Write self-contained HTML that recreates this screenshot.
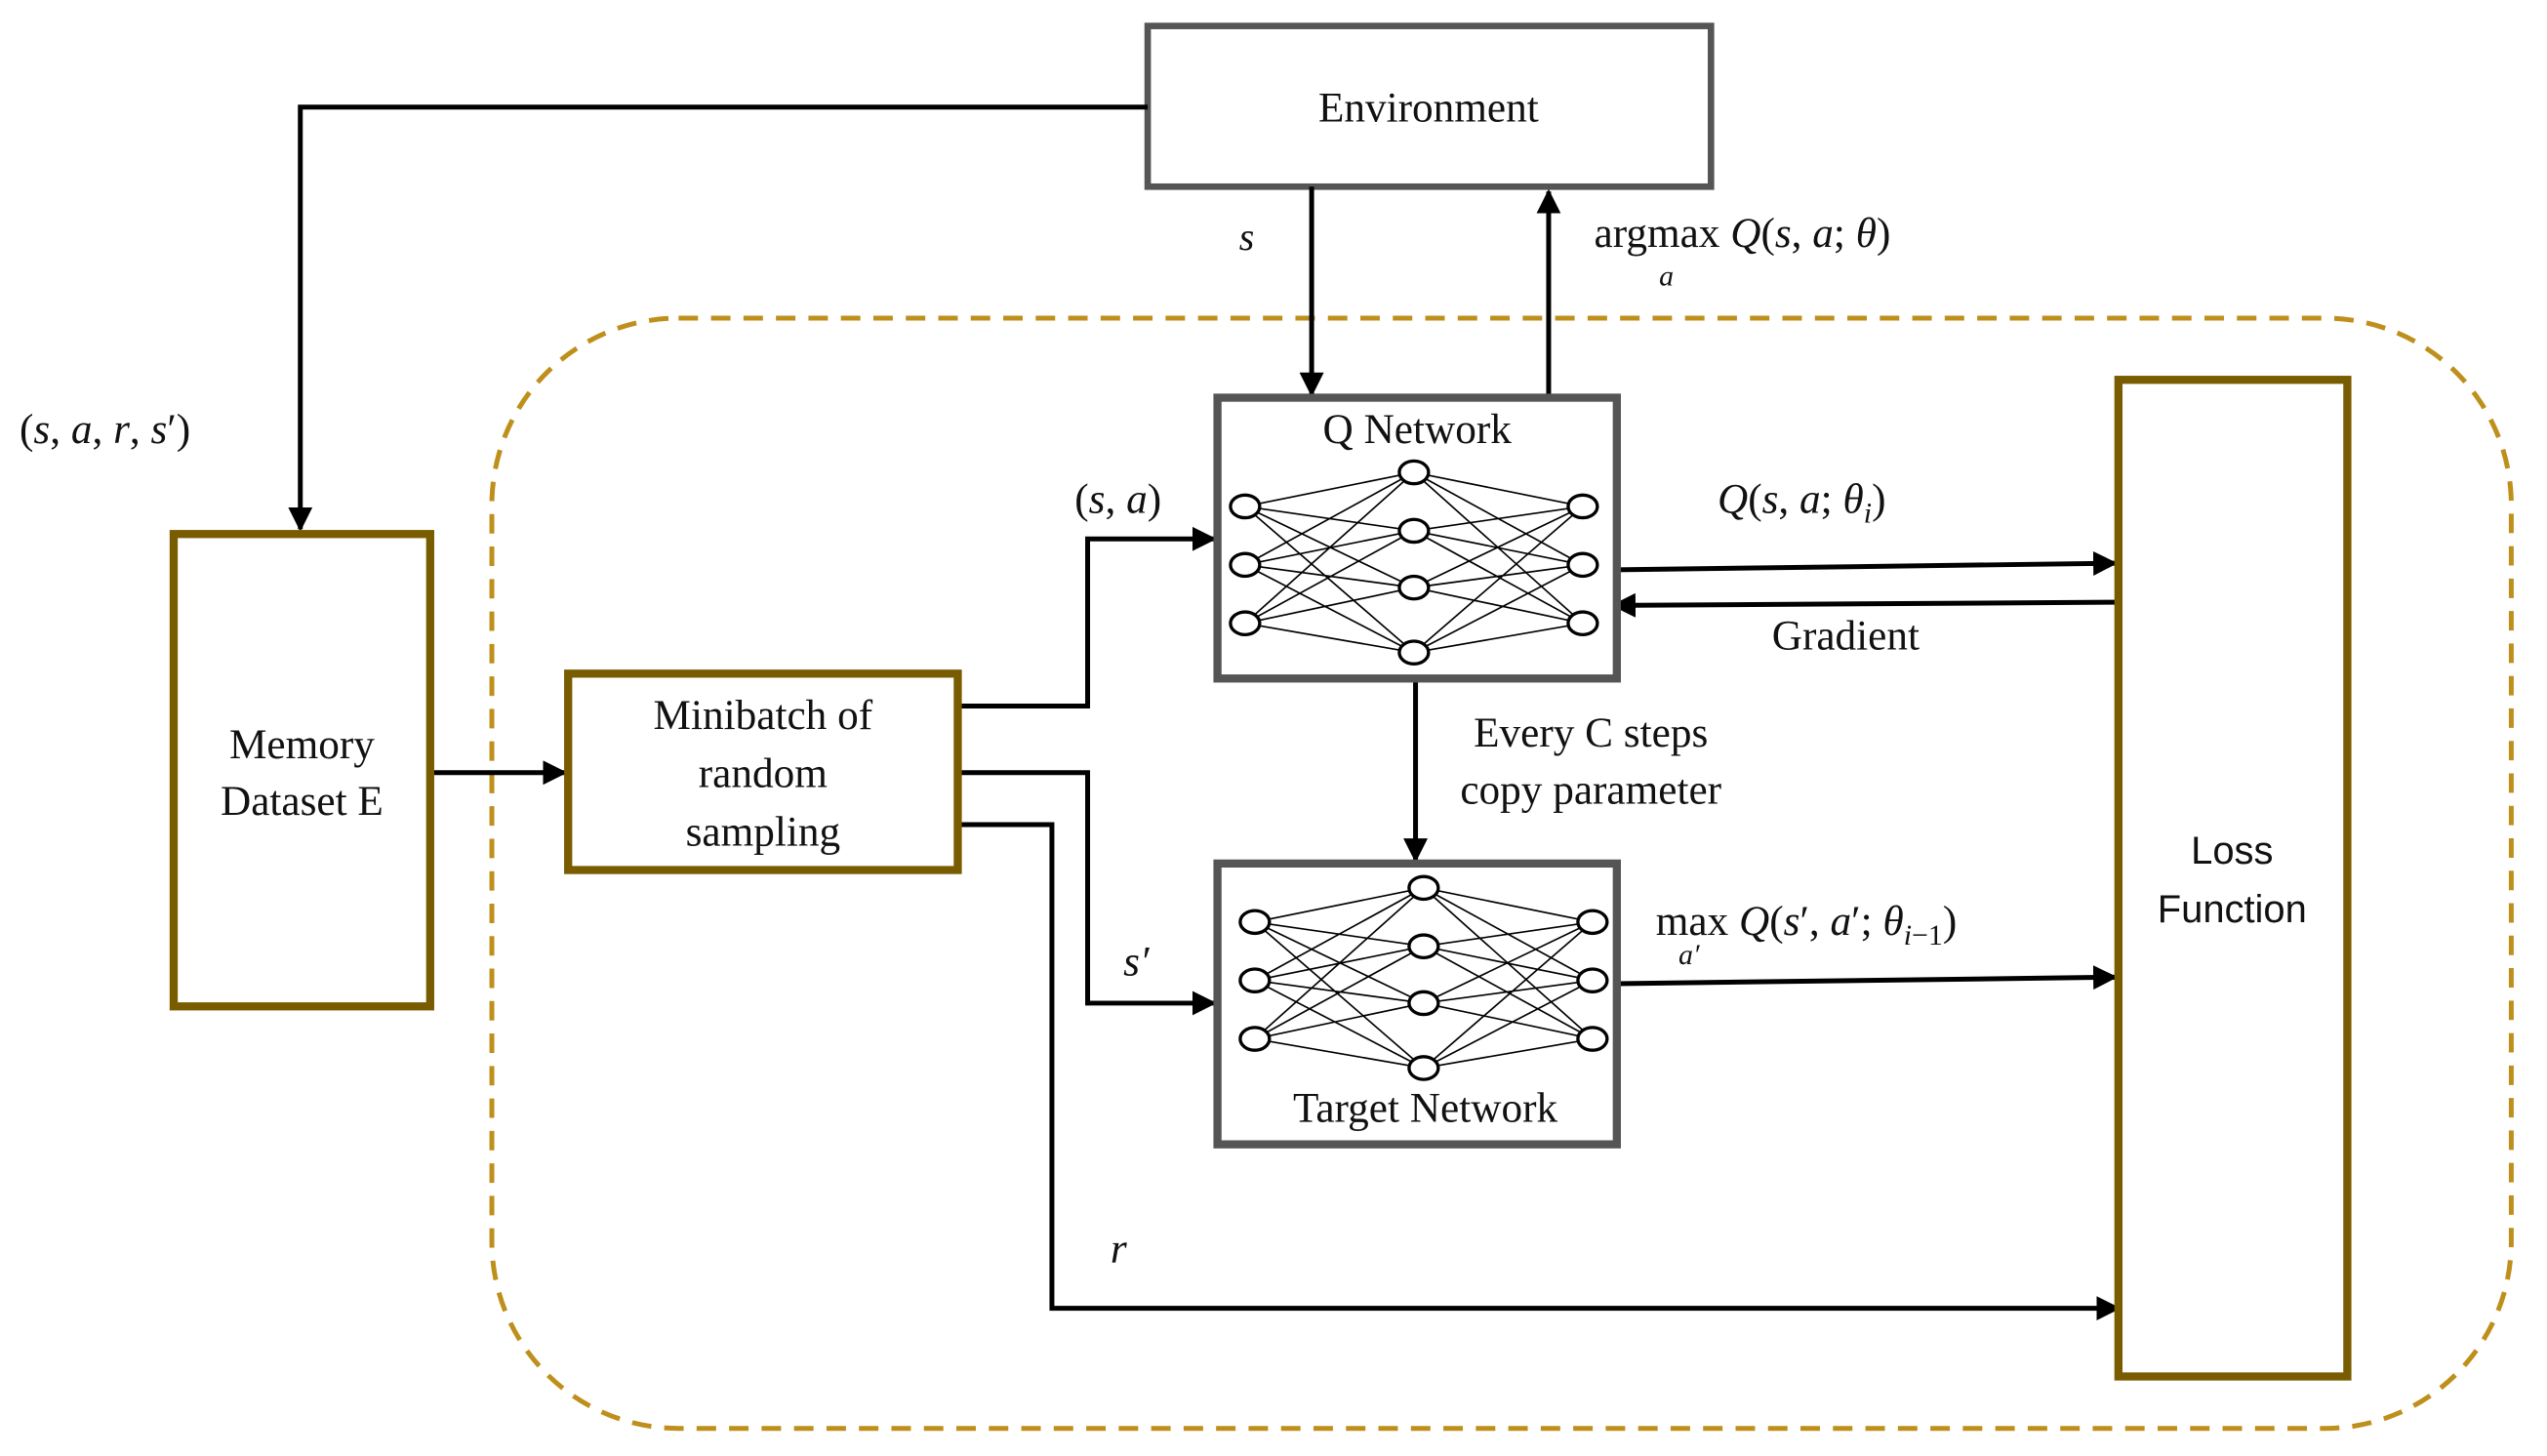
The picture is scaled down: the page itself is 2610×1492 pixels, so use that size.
<!DOCTYPE html>
<html><head><meta charset="utf-8"><style>
html,body{margin:0;padding:0;background:#fff;}
svg{display:block;}
text{font-family:"Liberation Serif",serif;fill:#111;}
.i{font-style:italic;}
</style></head><body>
<svg width="2610" height="1492" viewBox="0 0 1569 897" preserveAspectRatio="none" xmlns="http://www.w3.org/2000/svg">
<defs>
<marker id="a" viewBox="0 0 10 10" refX="9" refY="5" markerWidth="5" markerHeight="5" orient="auto"><path d="M0,0L10,5L0,10z" fill="#000"/></marker>
</defs>
<rect x="303" y="196" width="1244" height="684" rx="115" fill="none" stroke="#bf8f1c" stroke-width="3" stroke-dasharray="12,8"/>
<rect x="707" y="16" width="347" height="99" fill="#fff" stroke="#555" stroke-width="4"/>
<text x="880" y="75" font-size="26" text-anchor="middle">Environment</text>
<g stroke="#000" stroke-width="3" fill="none">
<polyline points="707,66 185,66 185,326" marker-end="url(#a)"/>
<line x1="808" y1="115" x2="808" y2="243" marker-end="url(#a)"/>
<line x1="954" y1="245" x2="954" y2="118" marker-end="url(#a)"/>
<line x1="265" y1="476" x2="348" y2="476" marker-end="url(#a)"/>
<polyline points="590,435 670,435 670,332 748,332" marker-end="url(#a)"/>
<polyline points="590,476 670,476 670,618 748,618" marker-end="url(#a)"/>
<polyline points="590,508 648,508 648,806 1305,806" marker-end="url(#a)"/>
<line x1="996" y1="351" x2="1303" y2="347" marker-end="url(#a)"/>
<line x1="1305" y1="371" x2="994" y2="373" marker-end="url(#a)"/>
<line x1="872" y1="418" x2="872" y2="530" marker-end="url(#a)"/>
<line x1="996" y1="606" x2="1303" y2="602" marker-end="url(#a)"/>
</g>
<text x="768" y="154" font-size="24" class="i" text-anchor="middle">s</text>
<text x="982" y="152" font-size="26">argmax <tspan class="i">Q</tspan>(<tspan class="i">s</tspan>, <tspan class="i">a</tspan>; <tspan class="i">θ</tspan>)</text>
<text x="1022" y="176" font-size="18" class="i">a</text>
<text x="12" y="273" font-size="26">(<tspan class="i">s</tspan>, <tspan class="i">a</tspan>, <tspan class="i">r</tspan>, <tspan class="i">s</tspan>′)</text>
<rect x="107" y="329" width="158" height="291" fill="#fff" stroke="#7a5c00" stroke-width="5"/>
<text x="186" y="467" font-size="26" text-anchor="middle">Memory</text>
<text x="186" y="502" font-size="26" text-anchor="middle">Dataset E</text>
<rect x="350" y="415" width="240" height="121" fill="#fff" stroke="#7a5c00" stroke-width="5"/>
<text x="470" y="449" font-size="26" text-anchor="middle">Minibatch of</text>
<text x="470" y="485" font-size="26" text-anchor="middle">random</text>
<text x="470" y="521" font-size="26" text-anchor="middle">sampling</text>
<text x="662" y="316" font-size="26">(<tspan class="i">s</tspan>, <tspan class="i">a</tspan>)</text>
<text x="692" y="601" font-size="26" class="i">s′</text>
<text x="684" y="778" font-size="26" class="i">r</text>
<text x="1058" y="316" font-size="26"><tspan class="i">Q</tspan>(<tspan class="i">s</tspan>, <tspan class="i">a</tspan>; <tspan class="i">θ</tspan><tspan class="i" font-size="18" dy="6">i</tspan><tspan dy="-6">)</tspan></text>
<text x="1137" y="400" font-size="26" text-anchor="middle">Gradient</text>
<text x="980" y="460" font-size="26" text-anchor="middle">Every C steps</text>
<text x="980" y="495" font-size="26" text-anchor="middle">copy parameter</text>
<text x="1020" y="576" font-size="26">max <tspan class="i">Q</tspan>(<tspan class="i">s</tspan>′, <tspan class="i">a</tspan>′;  <tspan class="i">θ</tspan><tspan font-size="18" dy="6"><tspan class="i">i</tspan>−1</tspan><tspan dy="-6">)</tspan></text>
<text x="1034" y="594" font-size="18" class="i">a′</text>
<rect x="1305" y="234" width="141" height="614" fill="#fff" stroke="#7a5c00" stroke-width="5"/>
<text x="1375" y="532" font-size="24" text-anchor="middle" style="font-family:'Liberation Sans',sans-serif">Loss</text>
<text x="1375" y="568" font-size="24" text-anchor="middle" style="font-family:'Liberation Sans',sans-serif">Function</text>
<rect x="750" y="245" width="246" height="173" fill="#fff" stroke="#555" stroke-width="5"/>
<text x="873" y="273" font-size="26" text-anchor="middle">Q Network</text>
<rect x="750" y="532" width="246" height="173" fill="#fff" stroke="#555" stroke-width="5"/>
<text x="878" y="691" font-size="26" text-anchor="middle">Target Network</text>
<g stroke="#000" stroke-width="1">
<path d="M767,312L871,291M767,312L871,327M767,312L871,362M767,312L871,402M767,348L871,291M767,348L871,327M767,348L871,362M767,348L871,402M767,384L871,291M767,384L871,327M767,384L871,362M767,384L871,402M975,312L871,291M975,312L871,327M975,312L871,362M975,312L871,402M975,348L871,291M975,348L871,327M975,348L871,362M975,348L871,402M975,384L871,291M975,384L871,327M975,384L871,362M975,384L871,402"/>
<path transform="translate(6,256)" d="M767,312L871,291M767,312L871,327M767,312L871,362M767,312L871,402M767,348L871,291M767,348L871,327M767,348L871,362M767,348L871,402M767,384L871,291M767,384L871,327M767,384L871,362M767,384L871,402M975,312L871,291M975,312L871,327M975,312L871,362M975,312L871,402M975,348L871,291M975,348L871,327M975,348L871,362M975,348L871,402M975,384L871,291M975,384L871,327M975,384L871,362M975,384L871,402"/>
</g>
<g fill="#fff" stroke="#000" stroke-width="2">
<ellipse cx="767" cy="312" rx="9" ry="7"/><ellipse cx="767" cy="348" rx="9" ry="7"/><ellipse cx="767" cy="384" rx="9" ry="7"/>
<ellipse cx="871" cy="291" rx="9" ry="7"/><ellipse cx="871" cy="327" rx="9" ry="7"/><ellipse cx="871" cy="362" rx="9" ry="7"/><ellipse cx="871" cy="402" rx="9" ry="7"/>
<ellipse cx="975" cy="312" rx="9" ry="7"/><ellipse cx="975" cy="348" rx="9" ry="7"/><ellipse cx="975" cy="384" rx="9" ry="7"/>
<g transform="translate(6,256)">
<ellipse cx="767" cy="312" rx="9" ry="7"/><ellipse cx="767" cy="348" rx="9" ry="7"/><ellipse cx="767" cy="384" rx="9" ry="7"/>
<ellipse cx="871" cy="291" rx="9" ry="7"/><ellipse cx="871" cy="327" rx="9" ry="7"/><ellipse cx="871" cy="362" rx="9" ry="7"/><ellipse cx="871" cy="402" rx="9" ry="7"/>
<ellipse cx="975" cy="312" rx="9" ry="7"/><ellipse cx="975" cy="348" rx="9" ry="7"/><ellipse cx="975" cy="384" rx="9" ry="7"/>
</g>
</g>
</svg>
</body></html>
